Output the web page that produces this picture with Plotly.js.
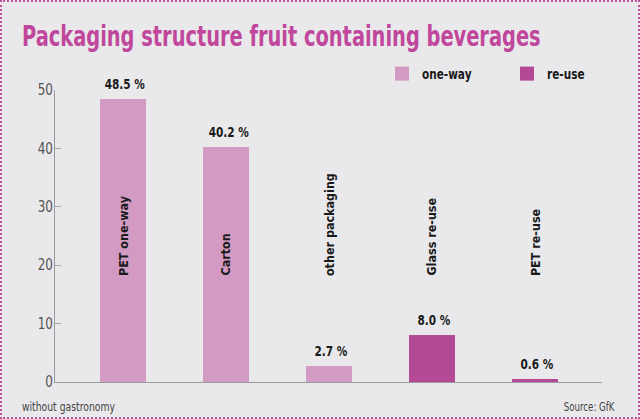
<!DOCTYPE html>
<html>
<head>
<meta charset="utf-8">
<script src="https://cdn.plot.ly/plotly-3.0.1.min.js"></script>
<style>
  html, body { margin: 0; padding: 0; background: #e9e9eb; }
  #wrap { position: relative; width: 640px; height: 419px; }
  #chart { width: 640px; height: 419px; }
  #frame { position: absolute; left: 0; top: 0; width: 640px; height: 419px;
           box-sizing: border-box; border: 2px dotted #c24ea0; pointer-events: none; }
</style>
</head>
<body>
<div id="wrap">
  <div id="chart"></div>
  <div id="frame"></div>
</div>
<script>
// Packaging shares of fruit-containing beverages (%)
const categories = ["PET one-way", "Carton", "other packaging", "Glass re-use", "PET re-use"];
const shares     = [48.5, 40.2, 2.7, 8.0, 0.6];
const packType   = ["one-way", "one-way", "one-way", "re-use", "re-use"];
const seriesNames = ["one-way", "re-use"];
const yTicks     = [0, 10, 20, 30, 40, 50];

const colours = { "one-way": "#d39bc4", "re-use": "#b44a96" };
const face = "'DejaVu Sans', Arial, sans-serif";

const idx = categories.map((_, i) => i);

const traces = seriesNames.map(name => {
  const pos = idx.filter(i => packType[i] === name);
  return {
    type: "bar",
    name: name,
    x: pos,
    y: pos.map(i => shares[i]),
    width: 0.447,
    marker: { color: colours[name], line: { width: 0 } },
    hoverinfo: "skip"
  };
});

// each annotation gets a horizontal squeeze and the end it stays pinned to
const annotations = [];
const annSqueeze = [];
idx.forEach(i => {
  annotations.push({
    x: i, y: shares[i], xref: "x", yref: "y",
    text: shares[i].toFixed(1) + " %",
    showarrow: false, yanchor: "bottom", yshift: 5, xshift: 2,
    font: { family: face, size: 14, color: "#1a1a1a", weight: "bold" }
  });
  annSqueeze.push({ f: 0.75, pin: "middle" });
  annotations.push({
    x: i, y: 17.8, xref: "x", yref: "y",
    text: categories[i], textangle: -90,
    showarrow: false, yanchor: "bottom", xanchor: "center",
    font: { family: face, size: 13, color: "#1a1a1a", weight: "bold" }
  });
  annSqueeze.push({ f: 0.86, pin: "start" });
});

annotations.push({
  xref: "paper", yref: "paper", x: -0.064, y: -0.085,
  xanchor: "left", yanchor: "middle", showarrow: false,
  text: "without gastronomy",
  font: { family: face, size: 12, color: "#444" }
});
annSqueeze.push({ f: 0.77, pin: "start" });
annotations.push({
  xref: "paper", yref: "paper", x: 1.029, y: -0.085,
  xanchor: "right", yanchor: "middle", showarrow: false,
  text: "Source: GfK",
  font: { family: face, size: 12, color: "#444" }
});
annSqueeze.push({ f: 0.72, pin: "end" });

const layout = {
  width: 640, height: 419,
  paper_bgcolor: "#e9e9eb", plot_bgcolor: "#e9e9eb",
  margin: { l: 55, r: 38, t: 88, b: 37, pad: 0 },
  title: {
    text: "Packaging structure fruit containing beverages",
    x: 22 / 640, xanchor: "left", xref: "container",
    y: 1 - 36 / 419, yanchor: "middle", yref: "container",
    font: { family: face, size: 29, color: "#c0479b", weight: "bold" }
  },
  xaxis: {
    range: [-0.66, 4.65],
    showticklabels: false, ticks: "",
    showgrid: false, zeroline: false,
    showline: true, linecolor: "#9a9a9a", linewidth: 1,
    fixedrange: true
  },
  yaxis: {
    range: [0, 50],
    tickvals: yTicks,
    ticks: "inside", ticklen: 6, tickcolor: "#a8a8a8", tickwidth: 1,
    showgrid: false, zeroline: false,
    showline: true, linecolor: "#9a9a9a", linewidth: 1,
    ticklabelstandoff: 0,
    tickfont: { family: face, size: 15, color: "#555" },
    fixedrange: true
  },
  showlegend: true,
  legend: {
    orientation: "h",
    x: 382 / 640, xref: "container", xanchor: "left",
    y: 1 - 74 / 419, yref: "container", yanchor: "middle",
    bgcolor: "rgba(0,0,0,0)",
    font: { family: face, size: 14, color: "#1a1a1a", weight: "bold" },
    entrywidth: 80, entrywidthmode: "pixels",
    itemwidth: 30
  },
  bargap: 0,
  annotations: annotations
};

// narrow a text element to a fraction of its natural width, keeping one end in place
function squeeze(el, factor, pin) {
  const w = el.getComputedTextLength();
  if (!w) return;
  const anchor = el.getAttribute("text-anchor") || el.style.textAnchor || "start";
  const x = parseFloat(el.getAttribute("x")) || 0;
  if (pin && pin !== "middle" && anchor === "middle") {
    el.setAttribute("text-anchor", pin);
    el.style.textAnchor = pin;
    el.setAttribute("x", (pin === "start" ? x - w / 2 : x + w / 2).toFixed(2));
  }
  el.setAttribute("textLength", (w * factor).toFixed(2));
  el.setAttribute("lengthAdjust", "spacingAndGlyphs");
}

Plotly.newPlot("chart", traces, layout, { staticPlot: true, displayModeBar: false }).then(gd => {
  // title: narrowed by a horizontal scale about its left edge
  const title = gd.querySelector(".gtitle");
  if (title) {
    const w = title.getComputedTextLength();
    const x0 = parseFloat(title.getAttribute("x")) || 0;
    if (w) {
      const s = 519 / w;
      const prev = title.getAttribute("transform") || "";
      title.setAttribute("transform",
        `translate(${x0},0) scale(${s.toFixed(4)},1) translate(${-x0},0) ${prev}`);
    }
  }
  gd.querySelectorAll(".annotation").forEach((g, k) => {
    const t = g.querySelector("text.annotation-text");
    const s = annSqueeze[k];
    if (t && s) squeeze(t, s.f, s.pin);
  });
  gd.querySelectorAll(".legendtext").forEach(t => squeeze(t, 0.75));
  gd.querySelectorAll(".legendpoints path").forEach(p => {
    const prev = p.getAttribute("transform") || "";
    p.setAttribute("transform", `${prev} scale(1.17)`);
  });
  gd.querySelectorAll(".ytick text").forEach(t => {
    squeeze(t, 0.8);
    t.setAttribute("x", ((parseFloat(t.getAttribute("x")) || 0) + 2).toFixed(2));
  });
});
</script>
</body>
</html>
